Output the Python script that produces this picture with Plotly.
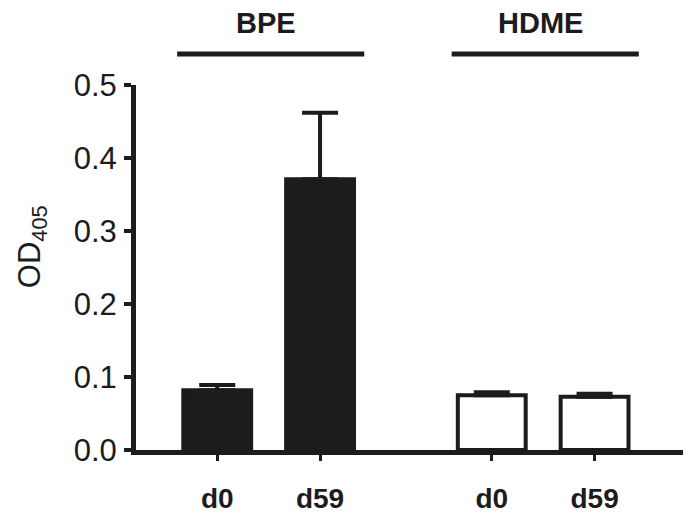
import plotly.graph_objects as go

# ---- data ----
groups = ["BPE", "HDME"]
timepoints = ["d0", "d59"]
bpe_means = [0.082, 0.371]
bpe_err = [0.007, 0.091]
hdme_means = [0.075, 0.073]
hdme_err = [0.004, 0.004]
y_ticks = [0.0, 0.1, 0.2, 0.3, 0.4, 0.5]

BLACK = "#1c1b1d"
GROUP_GAP = 2.67  # distance between group starts (in bar slots)

def positions(gi):
    return [gi * GROUP_GAP + i for i in range(len(timepoints))]

fig = go.Figure()
series = [(bpe_means, bpe_err, BLACK), (hdme_means, hdme_err, "white")]
for gi, (means, errs, fill) in enumerate(series):
    fig.add_trace(go.Bar(
        x=positions(gi), y=means, width=0.66,
        marker=dict(color=fill, line=dict(color=BLACK, width=4)),
        error_y=dict(type="data", symmetric=False, array=errs,
                     arrayminus=[0] * len(errs), color=BLACK,
                     thickness=4, width=18),
        showlegend=False,
    ))

all_x = positions(0) + positions(1)
xmin, xmax = all_x[0] - 0.79, all_x[-1] + 0.86

# group lines and labels
for gi, g in enumerate(groups):
    px = positions(gi)
    c = (px[0] + px[-1]) / 2
    fig.add_shape(type="line", xref="x", yref="paper",
                  x0=c - 0.89, x1=c + 0.93, y0=1.085, y1=1.085,
                  line=dict(color=BLACK, width=5))
    fig.add_annotation(x=c - 0.03, y=1.17, xref="x", yref="paper",
                       text=f"<b>{g}</b>", showarrow=False,
                       font=dict(size=29, color=BLACK),
                       xanchor="center", yanchor="middle")

fig.add_annotation(x=-0.19, y=0.556, xref="paper", yref="paper",
                   text="OD<sub>405</sub>", textangle=-90, showarrow=False,
                   font=dict(size=31, color=BLACK),
                   xanchor="center", yanchor="middle")

# the page body adds an 8px offset; the figure is sized to fill the window
fig.update_layout(
    width=684, height=507,
    margin=dict(l=128, r=9, t=77, b=65, autoexpand=False),
    barmode="overlay",
    paper_bgcolor="white", plot_bgcolor="white",
    font=dict(family="Liberation Sans, Arial, sans-serif", color=BLACK),
    xaxis=dict(range=[xmin, xmax], tickvals=all_x,
               ticktext=[f"<b>{t}</b>" for t in timepoints * len(groups)],
               tickfont=dict(size=28, color=BLACK),
               showline=True, linecolor=BLACK, linewidth=5,
               ticks="outside", ticklen=6, tickwidth=3, tickcolor=BLACK,
               ticklabelstandoff=13, automargin=False,
               showgrid=False, zeroline=False, fixedrange=True),
    yaxis=dict(range=[0, 0.5], tickvals=y_ticks,
               ticktext=[f"{v:.1f}" for v in y_ticks],
               tickfont=dict(size=31, color=BLACK),
               showline=True, linecolor=BLACK, linewidth=5,
               ticks="outside", ticklen=7, tickwidth=4, tickcolor=BLACK,
               ticklabelstandoff=1, automargin=False,
               showgrid=False, zeroline=False, fixedrange=True),
)

fig.write_html("out.html")
